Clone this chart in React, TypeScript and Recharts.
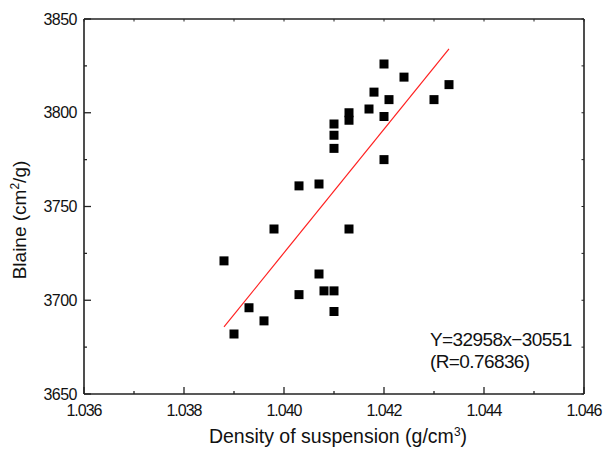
import React from 'react';
import { ScatterChart, Scatter, XAxis, YAxis, ReferenceLine } from 'recharts';

const density = [1.0388, 1.039, 1.0393, 1.0396, 1.0398, 1.0403, 1.0403, 1.0407, 1.0407, 1.0408, 1.041, 1.041, 1.041, 1.041, 1.041, 1.0413, 1.0413, 1.0413, 1.0417, 1.0418, 1.042, 1.042, 1.042, 1.0421, 1.0424, 1.043, 1.0433];
const blaine = [3721, 3682, 3696, 3689, 3738, 3761, 3703, 3762, 3714, 3705, 3705, 3694, 3781, 3788, 3794, 3800, 3796, 3738, 3802, 3811, 3826, 3798, 3775, 3807, 3819, 3807, 3815];

const xTicks = [1.036, 1.037, 1.038, 1.039, 1.04, 1.041, 1.042, 1.043, 1.044, 1.045, 1.046];
const yTicks = [3650, 3675, 3700, 3725, 3750, 3775, 3800, 3825, 3850];
const fitRange = [1.0388, 1.0433];
const slope = 32958;
const intercept = -30551;

const data = density.map((d, i) => ({ x: d, y: blaine[i] }));

const FONT = '"Liberation Sans", Arial, sans-serif';
const AX = '#222';

const isMajorX = (v: number) => Math.round(v * 1000) % 2 === 0;
const isMajorY = (v: number) => Math.round(v) % 50 === 0;

const BottomTick = (p: any) => {
  const { x, y, payload } = p;
  const v = payload.value;
  const major = isMajorX(v);
  return (
    <g>
      <line x1={x} x2={x} y1={y} y2={y - (major ? 7 : 3)} stroke={AX} strokeWidth={1.3} />
      {major && (
        <text x={x} y={y + 22} textAnchor="middle" fontFamily={FONT} fontSize={16} fill="#111" letterSpacing={-1}>
          {v.toFixed(3)}
        </text>
      )}
    </g>
  );
};

const LeftTick = (p: any) => {
  const { x, y, payload } = p;
  const v = payload.value;
  const major = isMajorY(v);
  return (
    <g>
      <line x1={x} x2={x + (major ? 7 : 3)} y1={y} y2={y} stroke={AX} strokeWidth={1.3} />
      {major && (
        <text x={x - 7} y={y + 5.5} textAnchor="end" fontFamily={FONT} fontSize={16} fill="#111" letterSpacing={-0.5}>
          {v}
        </text>
      )}
    </g>
  );
};

const TopTick = (p: any) => {
  const { x, y } = p;
  return <line x1={x} x2={x} y1={y} y2={y + 2.5} stroke={AX} strokeWidth={1} />;
};

const RightTick = (p: any) => {
  const { x, y } = p;
  return <line x1={x} x2={x - 2.5} y1={y} y2={y} stroke={AX} strokeWidth={1} />;
};

const Square = (p: any) => {
  const { cx, cy } = p;
  if (cx == null || cy == null) return null;
  return <rect x={cx - 4.5} y={cy - 4.5} width={9} height={9} fill="#000" />;
};

export default function App() {
  const axisLine = { stroke: AX, strokeWidth: 1.6 };
  return (
    <div style={{ position: 'absolute', left: 0, top: 0, width: 614, height: 460, background: '#fff' }}>
      <ScatterChart width={614} height={460} margin={{ top: 9, right: 20, bottom: 26, left: 44 }}>
        <XAxis
          dataKey="x"
          type="number"
          domain={[1.036, 1.046]}
          ticks={xTicks}
          interval={0}
          height={40}
          tickSize={0}
          tickMargin={0}
          tickLine={false}
          axisLine={axisLine}
          tick={<BottomTick />}
          allowDataOverflow
        />
        <XAxis
          xAxisId="top"
          orientation="top"
          dataKey="x"
          type="number"
          domain={[1.036, 1.046]}
          ticks={xTicks}
          interval={0}
          height={10}
          tickSize={0}
          tickMargin={0}
          tickLine={false}
          axisLine={axisLine}
          tick={<TopTick />}
          allowDataOverflow
        />
        <YAxis
          dataKey="y"
          type="number"
          domain={[3650, 3850]}
          ticks={yTicks}
          interval={0}
          width={40}
          tickSize={0}
          tickMargin={0}
          tickLine={false}
          axisLine={axisLine}
          tick={<LeftTick />}
          allowDataOverflow
        />
        <YAxis
          yAxisId="right"
          orientation="right"
          dataKey="y"
          type="number"
          domain={[3650, 3850]}
          ticks={yTicks}
          interval={0}
          width={10}
          tickSize={0}
          tickMargin={0}
          tickLine={false}
          axisLine={axisLine}
          tick={<RightTick />}
          allowDataOverflow
        />
        <ReferenceLine
          segment={[
            { x: fitRange[0], y: slope * fitRange[0] + intercept },
            { x: fitRange[1], y: slope * fitRange[1] + intercept },
          ]}
          stroke="#ff2020"
          strokeWidth={1.2}
        />
        <Scatter data={data} shape={<Square />} isAnimationActive={false} />
      </ScatterChart>
      <svg width={614} height={460} style={{ position: 'absolute', left: 0, top: 0, pointerEvents: 'none' }}>
        <text x={430} y={346} fontFamily={FONT} fontSize={19} fill="#111" letterSpacing={-0.6}>Y=32958x−30551</text>
        <text x={430} y={368} fontFamily={FONT} fontSize={19} fill="#111" letterSpacing={-0.6}>(R=0.76836)</text>
        <text x={338} y={443} textAnchor="middle" fontFamily={FONT} fontSize={19.5} fill="#111">
          Density of suspension (g/cm
          <tspan dy={-7} fontSize={12}>3</tspan>
          <tspan dy={7}>)</tspan>
        </text>
        <text x={26} y={220} transform="rotate(-90 26 220)" textAnchor="middle" fontFamily={FONT} fontSize={19} fill="#111">
          Blaine (cm
          <tspan dy={-7} fontSize={12}>2</tspan>
          <tspan dy={7}>/g)</tspan>
        </text>
      </svg>
    </div>
  );
}
